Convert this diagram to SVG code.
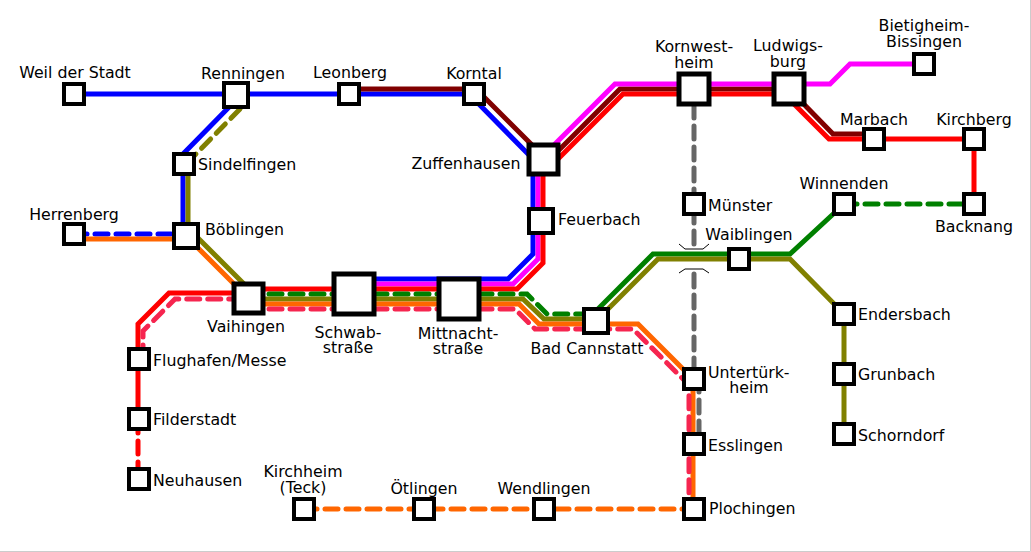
<svg xmlns="http://www.w3.org/2000/svg" width="1031" height="552" viewBox="0 0 1031 552">
<style>
.l{fill:none;stroke-width:5;stroke-linejoin:miter}
.d{stroke-dasharray:13 8;stroke-linecap:round}
.blue{stroke:#00f}.mag{stroke:#f0f}.red{stroke:#f00}.dred{stroke:#800000}.grn{stroke:#008000}.olv{stroke:#808000}.org{stroke:#f60}.crm{stroke:#f6254f}.gry{stroke:#666}
.s rect{fill:#fff;stroke:#000;stroke-width:4}
.m rect{stroke-width:5}
text{font-family:"DejaVu Sans",sans-serif;font-size:15.8px;fill:#000}
.c{text-anchor:middle}
.b{fill:none;stroke:#000;stroke-width:1}
</style>
<rect width="1031" height="552" fill="#fff"/>
<path d="M1030.5 0V551.5H0" fill="none" stroke="#ccc" stroke-width="1"/>
<g id="connectors">
<path class="l gry d" d="M694 105V250M694 274V379"/>
<path class="l gry d" d="M699 379V444"/>
<path class="l blue" d="M74 94H469L533 159V254L508 279H354"/>
<path class="l dred" d="M348 89H476L543 156M543 166L620 89H789L833 134H873"/>
<path class="l mag" d="M353 284H513L538 259V161L615 84H830L850 64H924"/>
<path class="l red" d="M248 289H517L543 263V174L623 94H784L829 139H974V204"/>
<path class="l blue" d="M236 100L183 154V236"/>
<path class="l olv" d="M188 164V232L196 236L247 287"/>
<path class="l olv d" d="M240 109L195 155L188 162"/>
<path class="l blue d" d="M74 234H186"/>
<path class="l org" d="M74 239H186M190 240L240 290"/>
<path class="l red" d="M248 293H169L138 324V420"/>
<path class="l red d" d="M138 420V478"/>
<path class="l crm d" d="M143 358V331L175 299H248"/>
<path class="l grn d" d="M248 294H527L547 314H596"/>
<path class="l olv" d="M248 299H523L544 319H596"/>
<path class="l org" d="M248 304H519L539 324H638L693 379V509"/>
<path class="l crm d" d="M248 309H515L535 329H633L684 380L689 386V509"/>
<path class="l grn" d="M587 320L653 254H790L844 204"/>
<path class="l olv" d="M596 321L658 259H790L844 314V434"/>
<path class="l grn d" d="M844 204H974"/>
<path class="l org d" d="M304 509H694"/>
<path class="b" d="M679 244L685 249H703L709 244M679 273L685 269H703L709 273"/>
</g>
<g class="s" id="weil"><rect x="64" y="84" width="20" height="20"/></g>
<g class="s" id="leonberg"><rect x="339" y="84" width="20" height="20"/></g>
<g class="s" id="korntal"><rect x="464" y="84" width="20" height="20"/></g>
<g class="s" id="renningen"><rect x="224" y="83" width="24" height="24"/></g>
<g class="s" id="sindelfingen"><rect x="174" y="154" width="20" height="20"/></g>
<g class="s" id="boeblingen"><rect x="174" y="224" width="24" height="24"/></g>
<g class="s" id="herrenberg"><rect x="64" y="224" width="20" height="20"/></g>
<g class="s m" id="vaihingen"><rect x="234" y="284" width="29" height="29"/></g>
<g class="s m" id="schwab"><rect x="334" y="274" width="40" height="40"/></g>
<g class="s m" id="mittnacht"><rect x="439" y="279" width="40" height="40"/></g>
<g class="s m" id="zuffenhausen"><rect x="529" y="145" width="29" height="29"/></g>
<g class="s" id="feuerbach"><rect x="529" y="209" width="24" height="24"/></g>
<g class="s m" id="kornwestheim"><rect x="679" y="74" width="30" height="30"/></g>
<g class="s m" id="ludwigsburg"><rect x="774" y="74" width="30" height="30"/></g>
<g class="s" id="bietigheim"><rect x="914" y="54" width="20" height="20"/></g>
<g class="s" id="marbach"><rect x="864" y="129" width="20" height="20"/></g>
<g class="s" id="kirchberg"><rect x="964" y="129" width="20" height="20"/></g>
<g class="s" id="backnang"><rect x="964" y="194" width="20" height="20"/></g>
<g class="s" id="winnenden"><rect x="834" y="194" width="20" height="20"/></g>
<g class="s" id="muenster"><rect x="684" y="194" width="20" height="20"/></g>
<g class="s" id="waiblingen"><rect x="729" y="249" width="20" height="20"/></g>
<g class="s" id="cannstatt"><rect x="584" y="309" width="24" height="24"/></g>
<g class="s" id="untertuerkheim"><rect x="684" y="369" width="20" height="20"/></g>
<g class="s" id="esslingen"><rect x="684" y="434" width="20" height="20"/></g>
<g class="s" id="plochingen"><rect x="684" y="499" width="20" height="20"/></g>
<g class="s" id="endersbach"><rect x="834" y="304" width="20" height="20"/></g>
<g class="s" id="grunbach"><rect x="834" y="364" width="20" height="20"/></g>
<g class="s" id="schorndorf"><rect x="834" y="424" width="20" height="20"/></g>
<g class="s" id="flughafen"><rect x="129" y="349" width="20" height="20"/></g>
<g class="s" id="filderstadt"><rect x="129" y="409" width="20" height="20"/></g>
<g class="s" id="neuhausen"><rect x="129" y="469" width="20" height="20"/></g>
<g class="s" id="kirchheim"><rect x="294" y="499" width="20" height="20"/></g>
<g class="s" id="oetlingen"><rect x="414" y="499" width="20" height="20"/></g>
<g class="s" id="wendlingen"><rect x="534" y="499" width="20" height="20"/></g>
<g id="labels">
<text x="75" y="78" class="c">Weil der Stadt</text>
<text x="243" y="79" class="c">Renningen</text>
<text x="350" y="78" class="c">Leonberg</text>
<text x="474" y="79" class="c">Korntal</text>
<text x="198" y="170">Sindelfingen</text>
<text x="205" y="235">Böblingen</text>
<text x="74" y="220" class="c">Herrenberg</text>
<text x="246" y="332" class="c">Vaihingen</text>
<text x="348" y="338" class="c">Schwab-</text>
<text x="348" y="353" class="c">straße</text>
<text x="458" y="339" class="c">Mittnacht-</text>
<text x="458" y="354" class="c">straße</text>
<text x="587" y="354" class="c">Bad Cannstatt</text>
<text x="466" y="169" class="c">Zuffenhausen</text>
<text x="558" y="225">Feuerbach</text>
<text x="694" y="52" class="c">Kornwest-</text>
<text x="694" y="68" class="c">heim</text>
<text x="788" y="51" class="c">Ludwigs-</text>
<text x="788" y="67" class="c">burg</text>
<text x="924" y="31" class="c">Bietigheim-</text>
<text x="924" y="47" class="c">Bissingen</text>
<text x="874" y="125" class="c">Marbach</text>
<text x="974" y="125" class="c">Kirchberg</text>
<text x="974" y="232" class="c">Backnang</text>
<text x="844" y="189" class="c">Winnenden</text>
<text x="708" y="211">Münster</text>
<text x="749" y="240" class="c">Waiblingen</text>
<text x="708" y="378">Untertürk-</text>
<text x="749" y="393" class="c">heim</text>
<text x="708" y="451">Esslingen</text>
<text x="709" y="514">Plochingen</text>
<text x="858" y="320">Endersbach</text>
<text x="858" y="380">Grunbach</text>
<text x="858" y="441">Schorndorf</text>
<text x="153" y="366">Flughafen/Messe</text>
<text x="153" y="425">Filderstadt</text>
<text x="153" y="486">Neuhausen</text>
<text x="303" y="477" class="c">Kirchheim</text>
<text x="303" y="493" class="c">(Teck)</text>
<text x="424" y="494" class="c">Ötlingen</text>
<text x="544" y="494" class="c">Wendlingen</text>
</g>
</svg>
